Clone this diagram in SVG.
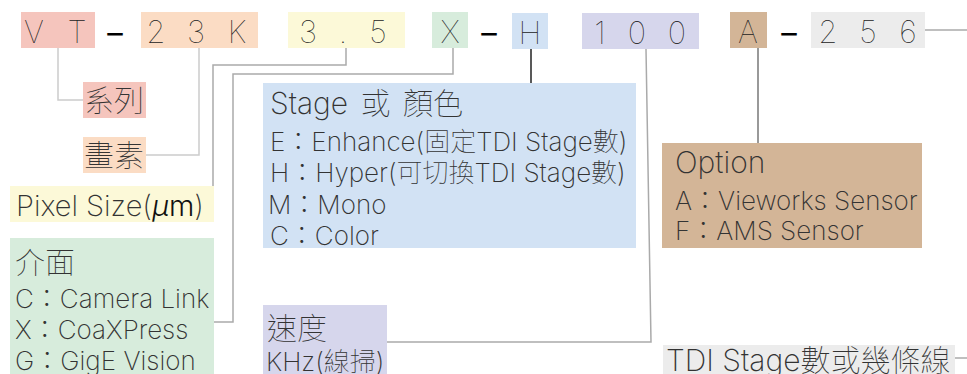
<svg xmlns="http://www.w3.org/2000/svg" width="967" height="374" viewBox="0 0 967 374">
<style>
text{font-family:Inter,"Noto Sans CJK TC","Noto Sans",sans-serif;font-weight:150;fill:#333}
.top{font-size:31px;text-anchor:middle;font-weight:100;fill:#222}
.dash{font-size:31px;text-anchor:middle;font-weight:400;fill:#000}
.t28{font-size:30px}
.t25{font-size:26px}
.c{fill:none;stroke-width:1.5}
.pink{fill:#f5c5bd}.peach{fill:#fbdcc4}.yel{fill:#fcf9d8}.grn{fill:#d7ecdc}.blu{fill:#d2e2f4}.lav{fill:#d6d6ec}.tan{fill:#d3b597}.gry{fill:#ececec}
</style>
<rect width="967" height="374" fill="#fff"/>
<g id="connectors">
<polyline class="c" stroke="#cccccc" points="58,48 58,100 83,100"/>
<polyline class="c" stroke="#cccccc" points="199,48 199,155 146,155"/>
<polyline class="c" stroke="#aaaaaa" points="346,48 346,65 213,65 213,186"/>
<polyline class="c" stroke="#aaaaaa" points="453,48 453,74 233,74 233,322 214,322"/>
<polyline class="c" stroke="#222222" points="531,49 531,83"/>
<polyline class="c" stroke="#aaaaaa" points="646,49 651,342 387,342"/>
<polyline class="c" stroke="#777777" points="758,48 758,143"/>
<polyline class="c" stroke="#aaaaaa" points="925,30 967,30"/>
<polyline class="c" stroke="#aaaaaa" points="955,358 967,358"/>
</g>
<g id="code-VT"><rect class="pink" x="21" y="12" width="74" height="36"/><text class="top" x="34 77" y="43">VT</text></g>
<text class="dash" x="115" y="44">–</text>
<g id="code-23K"><rect class="peach" x="141" y="12" width="117" height="36"/><text class="top" x="156 196 237" y="43">23K</text></g>
<g id="code-35"><rect class="yel" x="288" y="12" width="117" height="36"/><text class="top" x="308 343 378" y="43">3.5</text></g>
<g id="code-X"><rect class="grn" x="432" y="12" width="36" height="36"/><text class="top" x="450" y="43">X</text></g>
<text class="dash" x="489" y="44">–</text>
<g id="code-H"><rect class="blu" x="512" y="13" width="36" height="36"/><text class="top" x="530" y="44">H</text></g>
<g id="code-100"><rect class="lav" x="582" y="13" width="117" height="36"/><text class="top" x="600 637 677" y="44">100</text></g>
<g id="code-A"><rect class="tan" x="730" y="12" width="37" height="36"/><text class="top" x="748" y="43">A</text></g>
<text class="dash" x="789" y="44">–</text>
<g id="code-256"><rect class="gry" x="811" y="12" width="114" height="36"/><text class="top" x="828 868 908" y="43">256</text></g>

<g id="label-series"><rect class="pink" x="83" y="82" width="63" height="36"/><text class="t28" x="84" y="111">系列</text></g>
<g id="label-pixel"><rect class="peach" x="83" y="137" width="63" height="36"/><text class="t28" x="84" y="166">畫素</text></g>
<g id="label-pixelsize"><rect class="yel" x="10" y="186" width="204" height="36"/><text font-size="29" x="16" y="216">Pixel Size(<tspan font-weight="350" fill="#111" font-style="italic">μ</tspan><tspan font-weight="350" fill="#111">m</tspan>)</text></g>
<g id="label-interface"><rect class="grn" x="10" y="238" width="204" height="136"/>
<text class="t28" x="15" y="273">介面</text>
<text class="t25" x="15" y="308">C：Camera Link</text>
<text class="t25" x="15" y="339">X：CoaXPress</text>
<text class="t25" x="15" y="370">G：GigE Vision</text></g>
<g id="label-stage"><rect class="blu" x="263" y="83" width="373" height="165"/>
<text class="t28" x="270" y="114" word-spacing="4">Stage 或 顏色</text>
<text class="t25" x="270" y="151">E：Enhance(固定TDI Stage數)</text>
<text class="t25" x="270" y="182">H：Hyper(可切換TDI Stage數)</text>
<text class="t25" x="268" y="214">M：Mono</text>
<text class="t25" x="270" y="245">C：Color</text></g>
<g id="label-speed"><rect class="lav" x="263" y="305" width="124" height="69"/>
<text class="t28" x="267" y="339">速度</text>
<text class="t25" x="266" y="371">KHz(線掃)</text></g>
<g id="label-option"><rect class="tan" x="662" y="143" width="260" height="105"/>
<text class="t28" x="675" y="173">Option</text>
<text class="t25" x="675" y="210">A：Vieworks Sensor</text>
<text class="t25" x="675" y="240">F：AMS Sensor</text></g>
<g id="label-tdi"><rect class="gry" x="663" y="345" width="292" height="29"/>
<text class="t28" x="666" y="371">TDI Stage數或幾條線</text></g>
</svg>
